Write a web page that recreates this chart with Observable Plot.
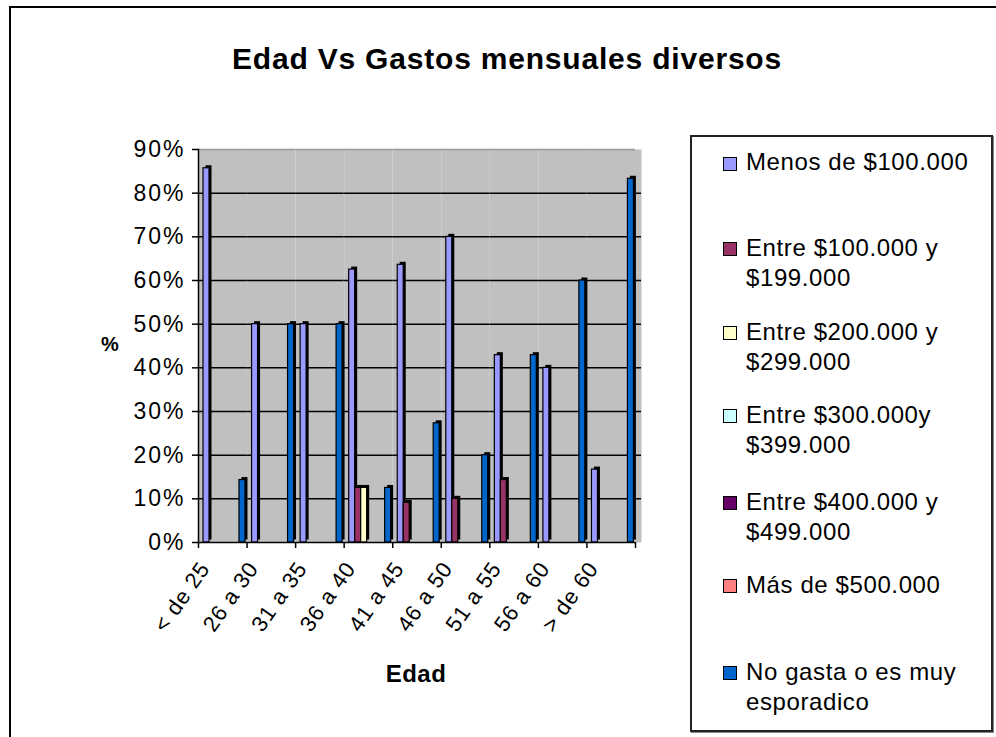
<!DOCTYPE html>
<html>
<head>
<meta charset="utf-8">
<script src="https://cdn.jsdelivr.net/npm/d3@7"></script>
<script src="https://cdn.jsdelivr.net/npm/@observablehq/plot@0.6"></script>
<style>
  body { margin: 0; background: #fff; }
  #wrap { position: relative; width: 996px; height: 737px; overflow: hidden; background: #fff;
          font-family: "Liberation Sans", Arial, sans-serif; color: #000; }
  #outer { position: absolute; left: 9px; top: 6px; width: 1100px; height: 900px; border: 2px solid #000; box-sizing: border-box; }
  #title { position: absolute; left: 207px; width: 600px; top: 44px; text-align: center; font-weight: bold;
           font-size: 30px; line-height: 30px; letter-spacing: 0.8px; white-space: nowrap; }
  #xlabel { position: absolute; left: 316px; width: 200px; top: 659px; text-align: center; font-weight: bold;
            font-size: 24px; line-height: 30px; letter-spacing: 0.5px; }
  #ylabel { position: absolute; left: 90px; width: 40px; top: 330px; text-align: center; font-weight: bold;
            font-size: 20px; line-height: 28px; }
  #chart { position: absolute; left: 0; top: 0; }
  #chart svg { overflow: visible; }
  #chart g[aria-label="y-axis tick label"] text { letter-spacing: 2px; }
  #chart g[aria-label="text"] text { letter-spacing: 0.8px; }
  #legend { position: absolute; left: 690px; top: 135px; width: 303px; height: 597px; border: 2px solid #222;
            box-sizing: border-box; box-shadow: 1px 1px 0 #888; }
  .sw { position: absolute; left: 31px; width: 14px; height: 14px; border: 1px solid #000; box-sizing: border-box; }
  .tx { position: absolute; left: 54px; font-size: 24px; line-height: 30px; letter-spacing: 0.6px; white-space: nowrap; }
</style>
</head>
<body>
<div id="wrap">
  <div id="outer"></div>
  <div id="title"></div>
  <div id="chart"></div>
  <div id="ylabel"></div>
  <div id="xlabel"></div>
  <div id="legend"></div>
</div>
<script>
// ---- Data ----
const title = "Edad Vs Gastos mensuales diversos";
const xTitle = "Edad";
const yTitle = "%";
const categories = ["< de 25", "26 a 30", "31 a 35", "36 a 40", "41 a 45", "46 a 50", "51 a 55", "56 a 60", "> de 60"];
const series = [
  "Menos de $100.000",
  "Entre $100.000 y $199.000",
  "Entre $200.000 y $299.000",
  "Entre $300.000y $399.000",
  "Entre $400.000 y $499.000",
  "Más de $500.000",
  "No gasta o es muy esporadico"
];
const legendLines = [
  ["Menos de $100.000"],
  ["Entre $100.000 y", "$199.000"],
  ["Entre $200.000 y", "$299.000"],
  ["Entre $300.000y", "$399.000"],
  ["Entre $400.000 y", "$499.000"],
  ["Más de $500.000"],
  ["No gasta o es muy", "esporadico"]
];
const colors = ["#9999FF", "#993366", "#FFFFCC", "#CCFFFF", "#660066", "#FF8080", "#0066CC"];
const menos100   = [85.7, 50, 50, 62.5, 63.6, 70, 42.9, 40, 16.7];
const entre100   = [0, 0, 0, 12.5, 9.1, 10, 14.3, 0, 0];
const entre200   = [0, 0, 0, 12.5, 0, 0, 0, 0, 0];
const entre300   = [0, 0, 0, 0, 0, 0, 0, 0, 0];
const entre400   = [0, 0, 0, 0, 0, 0, 0, 0, 0];
const mas500     = [0, 0, 0, 0, 0, 0, 0, 0, 0];
const noGasta    = [14.3, 50, 50, 12.5, 27.3, 20, 42.9, 60, 83.3];
const yTicks = [0, 10, 20, 30, 40, 50, 60, 70, 80, 90];
const gridTicks = [10, 20, 30, 40, 50, 60, 70, 80];

const seriesValues = [menos100, entre100, entre200, entre300, entre400, mas500, noGasta];
const rows = series.flatMap((s, i) => categories.map((c, j) => ({cat: c, series: s, value: seriesValues[i][j]})))
  .filter(d => d.value > 0);

// ---- Layout ----
const W = 680, H = 737;
const mL = 198, mR = 45, mT = 149, mB = 195;
const step = (W - mL - mR) / categories.length;
const wallDepth = 6;

const chart = Plot.plot({
  width: W, height: H,
  marginLeft: mL, marginRight: mR, marginTop: mT, marginBottom: mB,
  style: {fontFamily: '"Liberation Sans", Arial, sans-serif', background: "transparent", color: "#000"},
  fx: {domain: categories, paddingInner: 0, paddingOuter: 0, round: false, label: null},
  x: {domain: series, paddingInner: 0, paddingOuter: 0.55, align: 0.76, round: false, axis: null},
  y: {domain: [0, 90], label: null},
  color: {domain: series, range: colors},
  marks: [
    // back wall extends slightly past the last category (3-D depth)
    Plot.frame({fill: "#C0C0C0", stroke: "none", facetAnchor: "right", dx: wallDepth}),
    Plot.gridY({ticks: gridTicks, stroke: "#000", strokeOpacity: 1, strokeWidth: 1.5, facetAnchor: "right", dx: wallDepth}),
    Plot.frame({fill: "#C0C0C0", stroke: "none"}),
    Plot.ruleY([90], {stroke: "#999", strokeWidth: 1.5}),
    Plot.gridY({ticks: gridTicks, stroke: "#000", strokeOpacity: 1, strokeWidth: 1.5}),
    Plot.barY(rows, {fx: "cat", x: "series", y: "value", fill: "#000", dx: 2.5, dy: -2.5}),
    Plot.barY(rows, {fx: "cat", x: "series", y: "value", fill: "series", stroke: "#000", strokeWidth: 1.2}),
    Plot.ruleY([0], {stroke: "#000", strokeWidth: 1.5}),
    Plot.frame({anchor: "left", facetAnchor: "left", stroke: "#000", strokeWidth: 1.5}),
    Plot.axisY({ticks: yTicks, tickFormat: d => d + "%", tickSize: 6, tickPadding: 7, fontSize: 23,
                strokeWidth: 1.5, label: null}),
    Plot.axisFx({anchor: "bottom", tickSize: 6, tickFormat: () => "", dx: -step / 2, strokeWidth: 1.5, label: null}),
    Plot.axisFx({anchor: "bottom", ticks: [categories[categories.length - 1]], tickSize: 6, tickFormat: () => "",
                 dx: step / 2, strokeWidth: 1.5, label: null}),
    Plot.text(categories, {fx: d => d, text: d => d, frameAnchor: "bottom", rotate: -55, textAnchor: "end",
                           dx: -12, dy: 26, fontSize: 22})
  ]
});
document.getElementById("chart").appendChild(chart);

document.getElementById("title").textContent = title;
document.getElementById("xlabel").textContent = xTitle;
document.getElementById("ylabel").textContent = yTitle;

// ---- Legend ----
const capCenters = [162.7, 248, 332, 415, 502, 585, 672];
const legend = document.getElementById("legend");
const legTop = 135 + 2;
legendLines.forEach((lines, i) => {
  const sw = document.createElement("div");
  sw.className = "sw";
  sw.style.background = colors[i];
  sw.style.top = (capCenters[i] - 6 - legTop) + "px";
  legend.appendChild(sw);
  lines.forEach((t, k) => {
    const tx = document.createElement("div");
    tx.className = "tx";
    tx.textContent = t;
    tx.style.top = (capCenters[i] - 15.4 + k * 30 - legTop) + "px";
    legend.appendChild(tx);
  });
});
</script>
</body>
</html>
